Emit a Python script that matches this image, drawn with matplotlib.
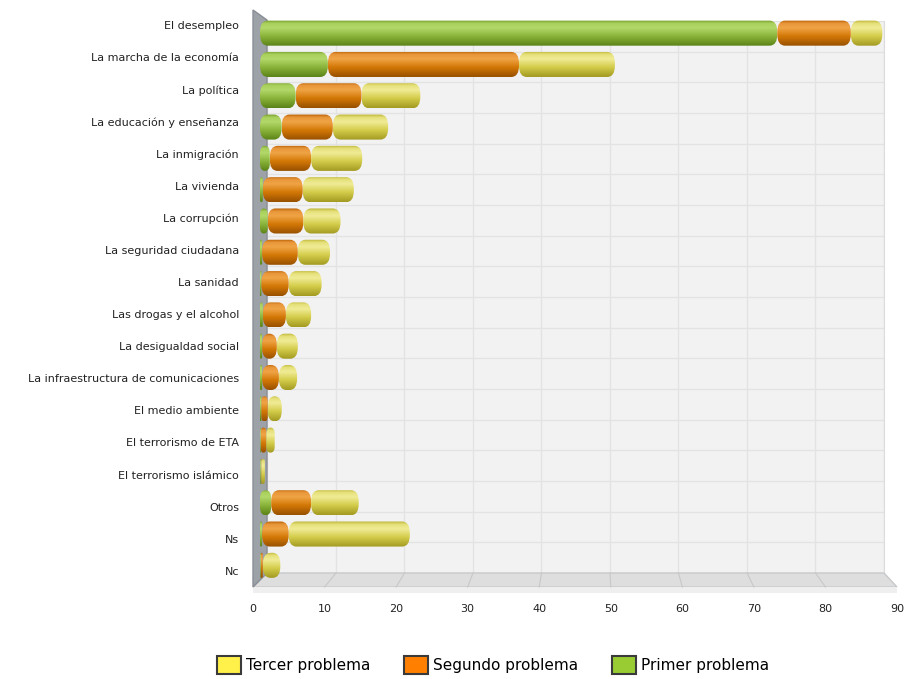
import matplotlib.pyplot as plt
import numpy as np
from matplotlib.patches import FancyBboxPatch, Polygon, Patch
from matplotlib.colors import LinearSegmentedColormap

# Datos (porcentajes)
categorias = ["El desempleo", "La marcha de la economía", "La política",
              "La educación y enseñanza", "La inmigración", "La vivienda",
              "La corrupción", "La seguridad ciudadana", "La sanidad",
              "Las drogas y el alcohol", "La desigualdad social",
              "La infraestructura de comunicaciones", "El medio ambiente",
              "El terrorismo de ETA", "El terrorismo islámico", "Otros",
              "Ns", "Nc"]
primer = [73.9, 9.7, 5.1, 3.1, 1.4, 0.4, 1.1, 0.3, 0.2, 0.4, 0.3, 0.3,
          0.2, 0.1, 0.1, 1.6, 0.3, 0.1]
segundo = [10.5, 27.3, 9.4, 7.3, 5.9, 5.7, 5.1, 5.1, 3.9, 3.3, 2.1, 2.4,
           0.9, 0.8, 0.1, 5.7, 3.8, 0.3]
tercer = [4.5, 13.7, 8.4, 7.9, 7.3, 7.3, 5.3, 4.6, 4.7, 3.6, 3.0, 2.6,
          2.0, 1.2, 0.5, 6.8, 17.3, 2.5]
ticks_x = [0, 10, 20, 30, 40, 50, 60, 70, 80, 90]
series = ["Tercer problema", "Segundo problema", "Primer problema"]

W, H = 907, 679
fig = plt.figure(figsize=(W / 100, H / 100), dpi=100)
fig.patch.set_facecolor('white')


def caja(x0, y0, x1, y1):
    # rectangulo en pixeles (origen arriba) -> coordenadas de figura
    return [x0 / W, 1 - y1 / H, (x1 - x0) / W, (y1 - y0) / H]


n = len(categorias)
pos = np.arange(n)

# pared del fondo con la rejilla
ax_back = fig.add_axes(caja(267, 21, 884, 573), zorder=0)
ax_back.set_facecolor('#f2f2f2')
ax_back.set_xlim(0, 90)
ax_back.set_ylim(n - 0.5, -0.5)
ax_back.set_xticks(ticks_x)
ax_back.set_yticks(np.arange(-0.5, n, 1))
ax_back.grid(True, color='#e3e3e3', lw=1.0)
ax_back.tick_params(length=0, labelbottom=False, labelleft=False)
for s in ax_back.spines.values():
    s.set_visible(False)
ax_back.spines['right'].set_visible(True)
ax_back.spines['right'].set_color('#dcdcdc')

# pared izquierda y suelo
ax_deco = fig.add_axes([0, 0, 1, 1], zorder=1)
ax_deco.set_xlim(0, W)
ax_deco.set_ylim(H, 0)
ax_deco.axis('off')
ax_deco.add_patch(Polygon([(253, 587), (897, 587), (884, 573), (267, 573)],
                          closed=True, fc='#dedede', ec='#c6c9cc', lw=1))
ax_deco.add_patch(Polygon([(253, 587), (897, 587), (897, 593), (253, 593)],
                          closed=True, fc='#efefef', ec='none'))
for t in ticks_x[1:-1]:
    ax_deco.plot([267.5 + 6.85 * t, 253 + 7.156 * t], [573, 587],
                 color='#c8c8c8', lw=0.8)
ax_deco.add_patch(Polygon([(253, 10), (267, 20), (267, 573), (253, 587)],
                          closed=True, fc='#9da1a8', ec='#8a8e95', lw=1))

# barras (cilindros)
ax_bars = fig.add_axes(caja(260, 17.5, 890, 581), zorder=2)
ax_bars.patch.set_visible(False)
ax_bars.axis('off')

ramp = [0.0, 0.12, 0.3, 0.62, 1.0]
cmaps = {
    "Primer problema": ['#739b28', '#a9d05c', '#b2d86a', '#8ab43a', '#5a8318'],
    "Segundo problema": ['#b85e00', '#e8963a', '#f0a446', '#d37806', '#985000'],
    "Tercer problema": ['#bab230', '#e6e07a', '#f0ec96', '#d4cc4a', '#a39b22'],
}
grad = np.linspace(0, 1, 80).reshape(-1, 1)

izq = np.zeros(n)
for nombre, vals in [("Primer problema", primer),
                     ("Segundo problema", segundo),
                     ("Tercer problema", tercer)]:
    cm = LinearSegmentedColormap.from_list(nombre, list(zip(ramp, cmaps[nombre])))
    rects = ax_bars.barh(pos, vals, left=izq, height=0.8, color='none')
    for r in rects:
        x, y, w, h = r.get_x(), r.get_y(), r.get_width(), r.get_height()
        r.set_visible(False)
        if w <= 0:
            continue
        rad = min(1.1, w / 2)
        cap = FancyBboxPatch((x, y), w, h,
                             boxstyle=f"round,pad=0,rounding_size={rad}",
                             mutation_aspect=0.33, fc='none', ec='none')
        ax_bars.add_patch(cap)
        im = ax_bars.imshow(grad, extent=(x, x + w, y + h, y), cmap=cm,
                            aspect='auto', interpolation='bilinear', zorder=3)
        im.set_clip_path(cap)
    izq = izq + np.array(vals)
ax_bars.set_xlim(0, 90)
ax_bars.set_ylim(n - 0.5, -0.5)

# eje frontal: etiquetas
ax_front = fig.add_axes(caja(253, 9, 897, 587), zorder=3)
ax_front.patch.set_visible(False)
ax_front.set_xlim(0, 90)
ax_front.set_ylim(n - 0.5, -0.5)
ax_front.set_xticks(ticks_x)
ax_front.set_yticks(pos)
ax_front.set_yticklabels(categorias)
ax_front.tick_params(length=0, labelsize=8, colors='#222222')
ax_front.tick_params(axis='y', pad=10)
ax_front.tick_params(axis='x', pad=12)
for s in ax_front.spines.values():
    s.set_visible(False)

# leyenda
colores_ley = {"Tercer problema": '#fff04a', "Segundo problema": '#ff7f00',
               "Primer problema": '#99cc33'}
handles = [Patch(fc=colores_ley[s], ec='#3a3a3a', lw=1.5) for s in series]
fig.legend(handles, series, loc='center', bbox_to_anchor=(493 / W, 1 - 665 / H),
           ncol=3, frameon=False, fontsize=11, handlelength=1.6,
           handleheight=1.4, handletextpad=0.3, columnspacing=2.2)

fig.savefig('out.png', dpi=100)
